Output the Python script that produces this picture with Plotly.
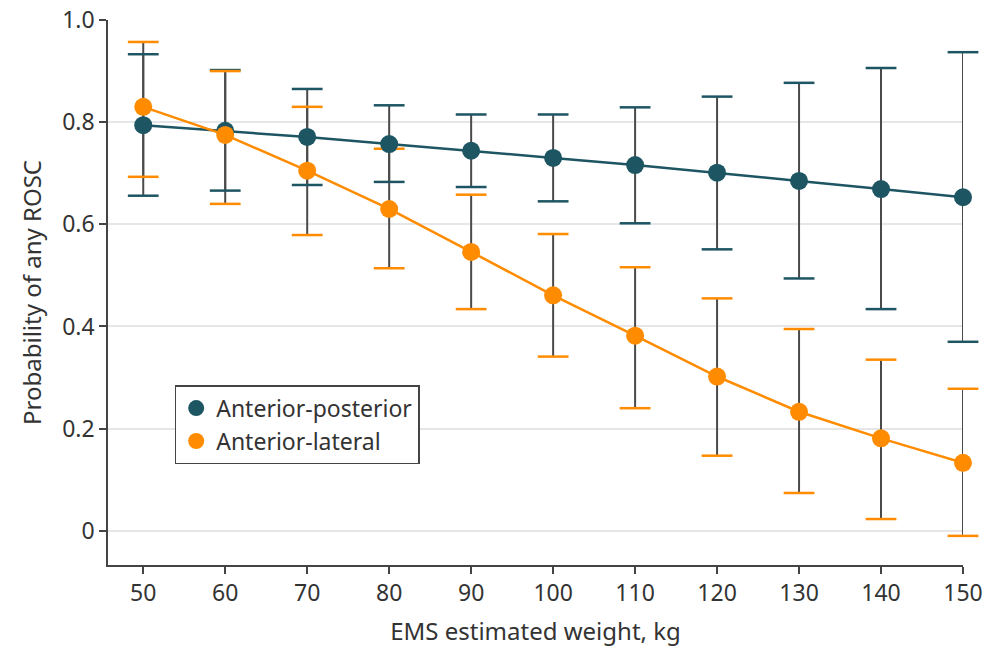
import plotly.graph_objects as go

weights = [50, 60, 70, 80, 90, 100, 110, 120, 130, 140, 150]

ap_est = [0.794, 0.783, 0.771, 0.757, 0.744, 0.730, 0.716, 0.701, 0.685, 0.669, 0.653]
ap_lo = [0.656, 0.666, 0.677, 0.683, 0.673, 0.645, 0.602, 0.551, 0.494, 0.434, 0.370]
ap_hi = [0.933, 0.902, 0.865, 0.833, 0.815, 0.815, 0.829, 0.850, 0.877, 0.906, 0.937]

al_est = [0.830, 0.775, 0.705, 0.630, 0.546, 0.461, 0.382, 0.302, 0.233, 0.181, 0.133]
al_lo = [0.693, 0.640, 0.579, 0.514, 0.434, 0.341, 0.240, 0.147, 0.074, 0.023, -0.010]
al_hi = [0.957, 0.900, 0.830, 0.748, 0.658, 0.581, 0.516, 0.455, 0.395, 0.335, 0.278]

x_ticks = weights
y_ticks = [0, 0.2, 0.4, 0.6, 0.8, 1.0]
y_tick_labels = ["0", "0.2", "0.4", "0.6", "0.8", "1.0"]

TEAL = "#1D5562"
ORANGE = "#FF8C00"
STEM = "#4A4A4A"
FONT = "Noto Sans"

series = [
    ("Anterior-posterior", ap_est, ap_lo, ap_hi, TEAL),
    ("Anterior-lateral", al_est, al_lo, al_hi, ORANGE),
]

fig = go.Figure()

# gray stems
for name, est, lo, hi, col in series:
    fig.add_trace(go.Scatter(
        x=weights, y=est, mode="markers",
        marker=dict(size=1, opacity=0),
        error_y=dict(type="data", symmetric=False,
                     array=[h - e for h, e in zip(hi, est)],
                     arrayminus=[e - l for e, l in zip(est, lo)],
                     color=STEM, thickness=2, width=0),
        showlegend=False, hoverinfo="skip", cliponaxis=False))

# colored caps
for name, est, lo, hi, col in series:
    fig.add_trace(go.Scatter(
        x=weights + weights, y=lo + hi, mode="markers",
        marker=dict(symbol="line-ew", size=22, line=dict(color=col, width=2.5)),
        showlegend=False, hoverinfo="skip", cliponaxis=False))

# lines and points
for name, est, lo, hi, col in series:
    fig.add_trace(go.Scatter(
        x=weights, y=est, mode="lines+markers", name=name,
        line=dict(color=col, width=2.5),
        marker=dict(color=col, size=18), cliponaxis=False,
        showlegend=False))

# legend entries (marker only)
for name, est, lo, hi, col in series:
    fig.add_trace(go.Scatter(
        x=[None], y=[None], mode="markers", name=name,
        marker=dict(color=col, size=18)))

fig.update_layout(
    width=987, height=650,
    margin=dict(l=108, r=24, t=20, b=85, autoexpand=False),
    paper_bgcolor="white", plot_bgcolor="white",
    font=dict(family=FONT, size=24, color="#333333"),
    legend=dict(x=0.078, y=0.33, xanchor="left", yanchor="top",
                bgcolor="white", bordercolor="#444444", borderwidth=1.5,
                font=dict(size=23, color="#333333"),
                entrywidth=235),
)

fig.update_xaxes(
    range=[45.7, 150], tickvals=x_ticks, automargin=False,
    showgrid=False, zeroline=False,
    showline=True, linecolor="#444444", linewidth=1.5,
    ticks="outside", ticklen=7, tickcolor="#444444", tickwidth=1.5,
    tickfont=dict(size=23),
    title=dict(text="EMS estimated weight, kg", font=dict(size=24), standoff=16),
)
fig.update_yaxes(
    range=[-0.067, 1.0], tickvals=y_ticks, ticktext=y_tick_labels, automargin=False,
    showgrid=True, gridcolor="#E6E6E8", gridwidth=1.5, zeroline=False,
    showline=True, linecolor="#444444", linewidth=1.5,
    ticks="outside", ticklen=7, tickcolor="#444444", tickwidth=1.5,
    tickfont=dict(size=23),
    title=dict(text="Probability of any ROSC", font=dict(size=24), standoff=14),
)

fig.write_html("out.html", config={"displayModeBar": False},
               post_script="document.body.style.margin='0';")
